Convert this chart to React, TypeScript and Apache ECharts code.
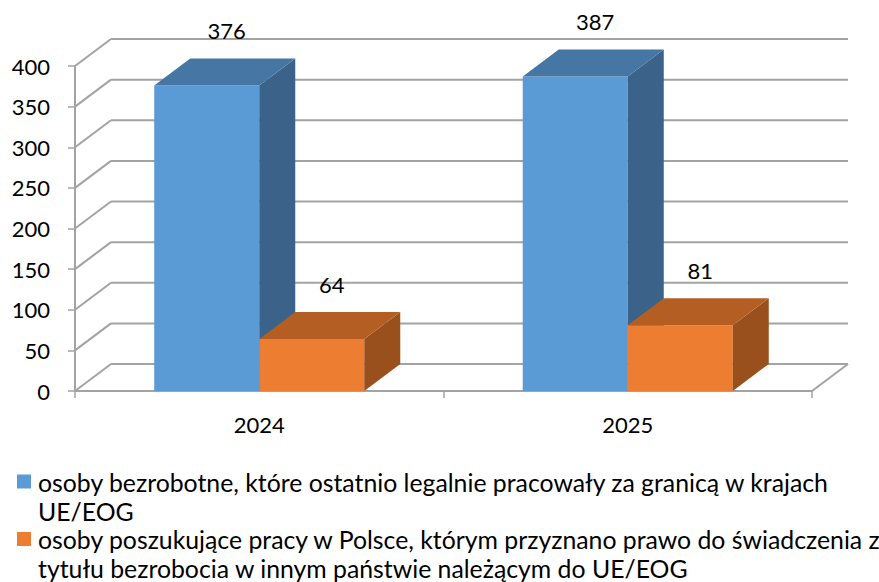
import React, { useEffect, useRef } from "react";
import * as echarts from "echarts";

const categories = ["2024", "2025"];
const legendLines = [
  ["osoby bezrobotne, które ostatnio legalnie pracowały za granicą w krajach", "UE/EOG"],
  ["osoby poszukujące pracy w Polsce, którym przyznano prawo do świadczenia z", "tytułu bezrobocia w innym państwie należącym do UE/EOG"],
];
const seriesNames = legendLines.map((l) => l.join(" "));
const valuesAbroad = [376, 387];
const valuesPoland = [64, 81];
const yTicks = [0, 50, 100, 150, 200, 250, 300, 350, 400];
const Y_MIN = 0;
const Y_MAX = 400;
const Y_INTERVAL = 50;

const FONT = "Lato";
const DX = 36;
const DY = -27;
const GRID_COLOR = "#a3a3a3";
const colorsFront = ["#5b9bd5", "#ed7d31"];
const colorsTop = ["#4676a3", "#b55e23"];
const colorsSide = ["#3b6288", "#9a501d"];

function wallRender(params: any, api: any) {
  const cs = params.coordSys;
  const v = api.value(1);
  const p = api.coord([0, v]);
  const y = p[1];
  const left = cs.x;
  const right = cs.x + cs.width;
  const style = { stroke: GRID_COLOR, lineWidth: 2, fill: null };
  const children: any[] = [
    { type: "line", shape: { x1: left, y1: y, x2: left + DX, y2: y + DY }, style },
    { type: "line", shape: { x1: left + DX, y1: y + DY, x2: right + DX, y2: y + DY }, style },
  ];
  if (v === Y_MIN) {
    children.push({ type: "line", shape: { x1: right, y1: y, x2: right + DX, y2: y + DY }, style });
  }
  return { type: "group", children };
}

function makeBarRender(si: number) {
  return (params: any, api: any) => {
    const idx = api.value(0);
    const v = api.value(1);
    const top = api.coord([idx, v]);
    const base = api.coord([idx, 0]);
    const bw = api.size([1, 0])[0] * 0.285;
    const x0 = si === 0 ? top[0] - bw : top[0];
    const x1 = x0 + bw;
    const yT = top[1];
    const yB = base[1];
    return {
      type: "group",
      children: [
        {
          type: "rect",
          shape: { x: x0, y: yT, width: bw, height: yB - yT },
          style: { fill: colorsFront[si] },
        },
        {
          type: "polygon",
          shape: { points: [[x1, yT], [x1 + DX, yT + DY], [x1 + DX, yB + DY], [x1, yB]] },
          style: { fill: colorsSide[si] },
        },
        {
          type: "polygon",
          shape: { points: [[x0, yT], [x1, yT], [x1 + DX, yT + DY], [x0 + DX, yT + DY]] },
          style: { fill: colorsTop[si] },
        },
        {
          type: "text",
          style: {
            x: (x0 + x1) / 2 + 20,
            y: yT + DY - 28,
            text: String(v),
            fontFamily: FONT,
            fontSize: 22,
            fill: "#000",
            align: "center",
            verticalAlign: "middle",
          },
        },
      ],
    };
  };
}

export default function App() {
  const ref = useRef<HTMLDivElement>(null);
  useEffect(() => {
    if (!ref.current) return;
    const chart = echarts.init(ref.current, undefined, { renderer: "svg" });
    const legendGraphics: any[] = [];
    const legendTops = [467.5, 525];
    legendLines.forEach((lines, i) => {
      legendGraphics.push({
        type: "rect",
        left: 17,
        top: legendTops[i] + 7,
        shape: { width: 14, height: 14 },
        style: { fill: colorsFront[i] },
      });
      legendGraphics.push({
        type: "text",
        left: 38,
        top: legendTops[i],
        style: {
          text: lines.join("\n"),
          fontFamily: FONT,
          fontSize: 24.8,
          lineHeight: 29,
          fill: "#000",
        },
      });
    });
    chart.setOption({
      animation: false,
      backgroundColor: "#fff",
      grid: { left: 75, right: 67, top: 66, bottom: 191 },
      xAxis: {
        type: "category",
        data: categories,
        axisLine: { show: true, lineStyle: { color: GRID_COLOR, width: 2 } },
        axisTick: { show: true, length: 7, lineStyle: { color: GRID_COLOR, width: 1.5 } },
        axisLabel: { fontFamily: FONT, fontSize: 22, color: "#000", margin: 22 },
        splitLine: { show: false },
      },
      yAxis: {
        type: "value",
        min: Y_MIN,
        max: Y_MAX,
        interval: Y_INTERVAL,
        axisLine: { show: true, lineStyle: { color: GRID_COLOR, width: 2 } },
        axisTick: { show: true, length: 7, lineStyle: { color: GRID_COLOR, width: 1.5 } },
        axisLabel: { fontFamily: FONT, fontSize: 22, color: "#000", margin: 25 },
        splitLine: { show: false },
      },
      graphic: legendGraphics,
      series: [
        {
          type: "custom",
          name: "walls",
          silent: true,
          renderItem: wallRender,
          data: yTicks.map((v) => [0, v]),
          z: 1,
        },
        {
          type: "custom",
          name: seriesNames[0],
          renderItem: makeBarRender(0),
          data: valuesAbroad.map((v, i) => [i, v]),
          z: 2,
        },
        {
          type: "custom",
          name: seriesNames[1],
          renderItem: makeBarRender(1),
          data: valuesPoland.map((v, i) => [i, v]),
          z: 2,
        },
      ],
    });
    return () => chart.dispose();
  }, []);
  return (
    <div
      ref={ref}
      style={{ position: "fixed", left: 0, top: 0, width: 879, height: 582 }}
    />
  );
}
